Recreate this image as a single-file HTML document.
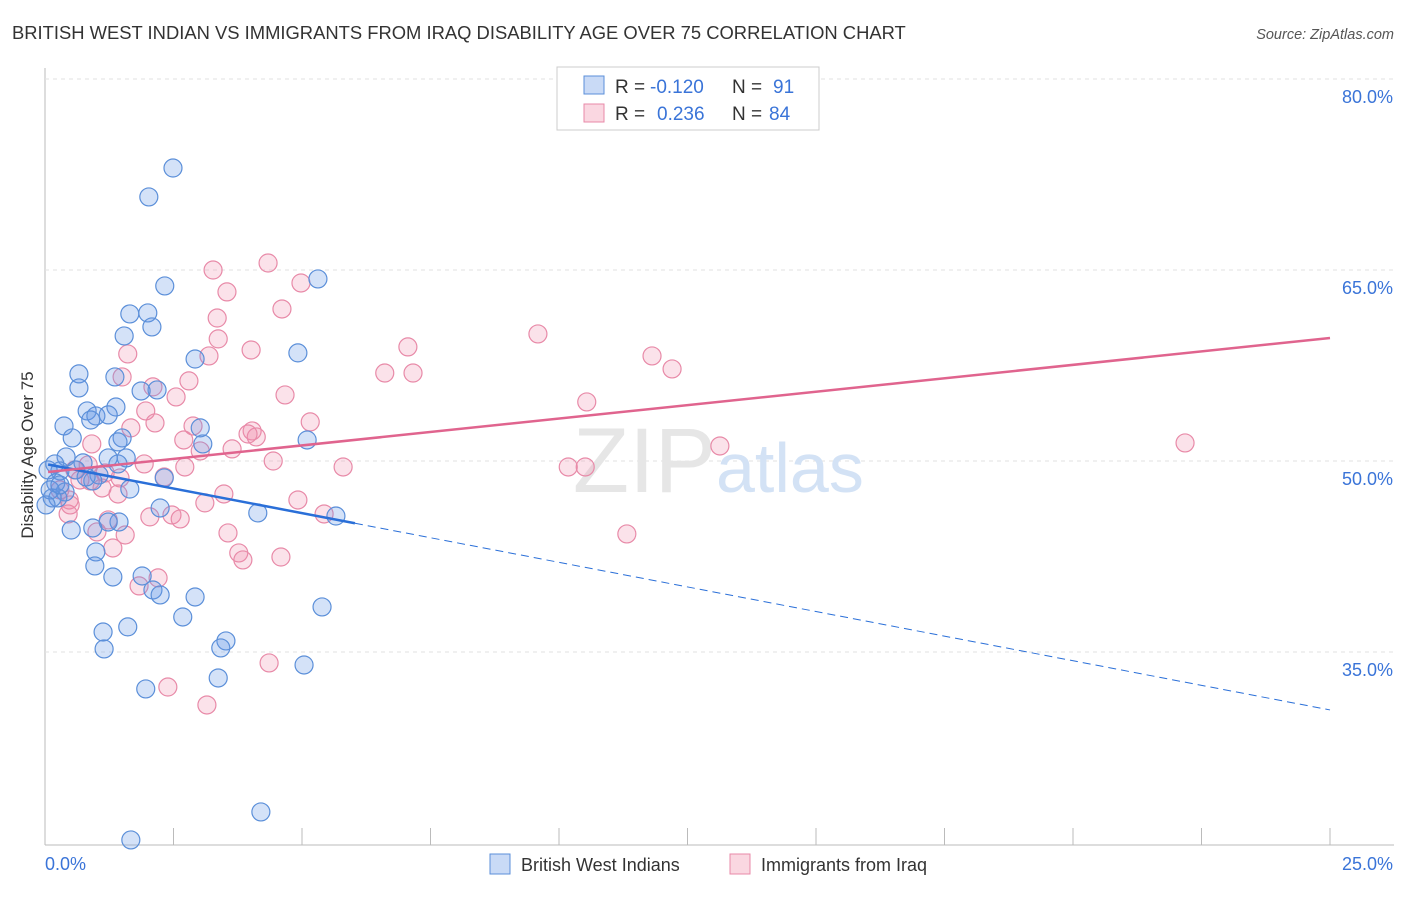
<!DOCTYPE html>
<html><head><meta charset="utf-8"><style>
body{margin:0;background:#fff;font-family:"Liberation Sans",sans-serif}
svg text{font-family:"Liberation Sans",sans-serif}
</style></head><body>
<svg id="chart" width="1406" height="892">
<text x="12" y="39" font-size="18.4" fill="#333">BRITISH WEST INDIAN VS IMMIGRANTS FROM IRAQ DISABILITY AGE OVER 75 CORRELATION CHART</text>
<text x="1394" y="39" font-size="14.5" fill="#555" text-anchor="end" font-style="italic">Source: ZipAtlas.com</text>
<text x="33" y="455" font-size="17" fill="#333" text-anchor="middle" transform="rotate(-90 33 455)">Disability Age Over 75</text>
<g id="grid"></g>
<text x="716" y="492" font-size="92" fill="#e6e6e6" text-anchor="end" font-family="Liberation Serif">ZIP</text>
<text x="716" y="492" font-size="70" fill="#d3e2f5">atlas</text>
<g id="pts"></g>
<g id="trends"></g>
<g>
<rect x="557" y="67" width="262" height="63" fill="#fff" stroke="#ccc"/>
<rect x="584" y="76" width="20" height="18" fill="rgba(100,150,230,0.35)" stroke="#5b8fd9"/>
<rect x="584" y="104" width="20" height="18" fill="rgba(240,140,170,0.35)" stroke="#e88aa8"/>
<text x="615" y="93" font-size="19" fill="#333">R =</text>
<text x="650" y="93" font-size="19" fill="#3a74d8">-0.120</text>
<text x="732" y="93" font-size="19" fill="#333">N =</text>
<text x="773" y="93" font-size="19" fill="#3a74d8">91</text>
<text x="615" y="120" font-size="19" fill="#333">R =</text>
<text x="657" y="120" font-size="19" fill="#3a74d8">0.236</text>
<text x="732" y="120" font-size="19" fill="#333">N =</text>
<text x="769" y="120" font-size="19" fill="#3a74d8">84</text>
</g>
<g>
<rect x="490" y="854" width="20" height="20" fill="rgba(100,150,230,0.35)" stroke="#5b8fd9"/>
<text x="521" y="871" font-size="18" fill="#333">British West Indians</text>
<rect x="730" y="854" width="20" height="20" fill="rgba(240,140,170,0.35)" stroke="#e88aa8"/>
<text x="761" y="871" font-size="18" fill="#333">Immigrants from Iraq</text>
</g>
</svg>
<script>
const blueX=[2.49,2.02,2.33,5.31,1.65,2.00,2.08,1.54,2.92,4.92,0.66,1.36,0.66,2.18,1.87,1.38,0.82,0.99,1.23,0.89,0.37,1.50,0.53,1.42,3.07,5.10,3.02,0.41,1.23,1.58,0.74,1.42,0.19,0.29,0.60,1.05,0.93,0.21,1.65,0.39,0.14,0.25,2.32,2.24,4.14,5.66,0.51,0.93,1.44,1.23,0.99,0.97,1.32,1.89,2.10,2.24,2.92,2.68,5.39,1.13,1.61,3.52,3.42,1.15,5.04,3.37,1.96,4.20,1.67,0.06,0.10,0.02,0.29,0.80];
const blueYRaw=[74.42,72.15,65.16,65.71,62.96,63.04,61.94,61.23,59.42,59.90,58.25,58.01,57.15,56.99,56.91,55.65,55.34,54.95,55.03,54.63,54.16,53.22,53.22,52.91,52.75,53.06,54.01,51.73,51.65,51.65,51.26,51.18,51.18,50.63,50.71,50.31,49.84,49.69,49.21,48.98,48.51,48.51,50.08,47.72,47.33,47.09,45.99,46.15,46.62,46.62,44.27,43.17,42.30,42.38,41.28,40.89,40.73,39.16,39.95,37.98,38.38,37.28,36.73,36.65,35.39,34.37,33.51,23.85,21.65,50.71,49.14,47.96,49.53,50.16];
const pinkX=[4.34,3.27,4.98,3.54,4.61,3.35,9.59,7.06,3.37,3.19,4.01,1.61,11.81,6.61,7.16,12.20,2.80,1.50,2.10,4.67,2.55,10.54,1.96,5.16,1.67,2.14,2.88,4.03,4.11,3.95,0.91,2.70,22.18,3.64,13.13,3.02,1.93,4.44,5.80,10.18,10.51,2.72,2.32,1.46,0.88,0.68,1.11,1.42,3.48,3.11,4.92,0.47,2.47,2.04,2.63,5.43,0.45,1.23,3.56,11.32,1.01,1.56,1.32,3.77,3.85,4.59,1.83,2.20,4.36,2.39,3.15,0.58,0.29,0.49,0.84,1.17];
const pinkYRaw=[66.96,66.41,65.39,64.69,63.35,62.64,61.39,60.37,61.00,59.66,60.13,59.82,59.66,58.32,58.32,58.64,57.70,58.01,57.23,56.60,56.44,56.05,55.34,54.48,54.01,54.40,54.16,53.77,53.30,53.53,52.75,53.06,52.83,52.36,52.59,52.20,51.18,51.41,50.94,50.94,50.94,50.94,50.16,50.08,49.84,49.92,49.29,48.82,48.82,48.12,48.35,48.35,47.17,47.02,46.86,47.25,47.25,46.78,45.76,45.68,45.84,45.60,44.58,44.19,43.64,43.87,41.60,42.23,35.55,33.66,32.25,50.71,49.14,47.96,51.10,50.47];
const blueY=blueYRaw.map(v=>+(v-1.41).toFixed(2));
const pinkY=pinkYRaw.map(v=>+(v-1.41).toFixed(2));
const yTicks=[35,50,65,80];
const yTickLabels=["35.0%","50.0%","65.0%","80.0%"];
const xTicks=[0,2.5,5,7.5,10,12.5,15,17.5,20,22.5,25];
const blueTrend=[49.77,30.45];
const blueSolidEnd=6.03;
const pinkTrend=[49.14,59.66];

const NS="http://www.w3.org/2000/svg";
const X=v=>45+v*51.4, Y=v=>461-(v-50)*12.733;
function mk(tag,attrs,parent){const e=document.createElementNS(NS,tag);for(const k in attrs)e.setAttribute(k,attrs[k]);parent.appendChild(e);return e;}
const grid=document.getElementById('grid');
mk('line',{x1:45,y1:68,x2:45,y2:845,stroke:'#bbb'},grid);
mk('line',{x1:45,y1:845,x2:1394,y2:845,stroke:'#bbb'},grid);
yTicks.forEach((t,i)=>{
 const l=mk('line',{x1:45,y1:Y(t),x2:1394,y2:Y(t),stroke:'#e2e2e2','stroke-dasharray':'4,4'},grid);
 
 
 const tx=mk('text',{x:1393,y:Y(t)+24,'font-size':18,fill:'#3a74d8','text-anchor':'end'},grid);
 tx.textContent=yTickLabels[i];
 
 
});
xTicks.forEach(t=>{
 const l=mk('line',{x1:X(t),y1:828,x2:X(t),y2:845,stroke:'#bbb'},grid);
 
 
});
const xl0=mk('text',{x:45,y:870,'font-size':18,fill:'#3a74d8'},grid);xl0.textContent="0.0%";


const xl1=mk('text',{x:1393,y:870,'font-size':18,fill:'#3a74d8','text-anchor':'end'},grid);xl1.textContent="25.0%";


const pts=document.getElementById('pts');
pinkX.forEach((x,i)=>{const c=mk('circle',{cx:X(x),cy:Y(pinkY[i]),r:9,fill:'rgba(240,140,170,0.25)',stroke:'#e88aa8','stroke-width':1.2},pts);
 
 });
blueX.forEach((x,i)=>{const c=mk('circle',{cx:X(x),cy:Y(blueY[i]),r:9,fill:'rgba(100,150,230,0.28)',stroke:'#5b8fd9','stroke-width':1.2},pts);
 
 });
const tr=document.getElementById('trends');
const bAt=v=>blueTrend[0]+(blueTrend[1]-blueTrend[0])*v/25;
const b1=mk('line',{x1:X(0.06),y1:Y(bAt(0.06)),x2:X(blueSolidEnd),y2:Y(bAt(blueSolidEnd)),stroke:'#2a6fd8','stroke-width':2.5},tr);


const b2=mk('line',{x1:X(blueSolidEnd),y1:Y(bAt(blueSolidEnd)),x2:X(25),y2:Y(bAt(25)),stroke:'#2a6fd8','stroke-width':1,'stroke-dasharray':'8,5'},tr);


const p1=mk('line',{x1:X(0.06),y1:Y(pinkTrend[0]),x2:X(25),y2:Y(pinkTrend[1]),stroke:'#e0648e','stroke-width':2.5},tr);


</script>
</body></html>
